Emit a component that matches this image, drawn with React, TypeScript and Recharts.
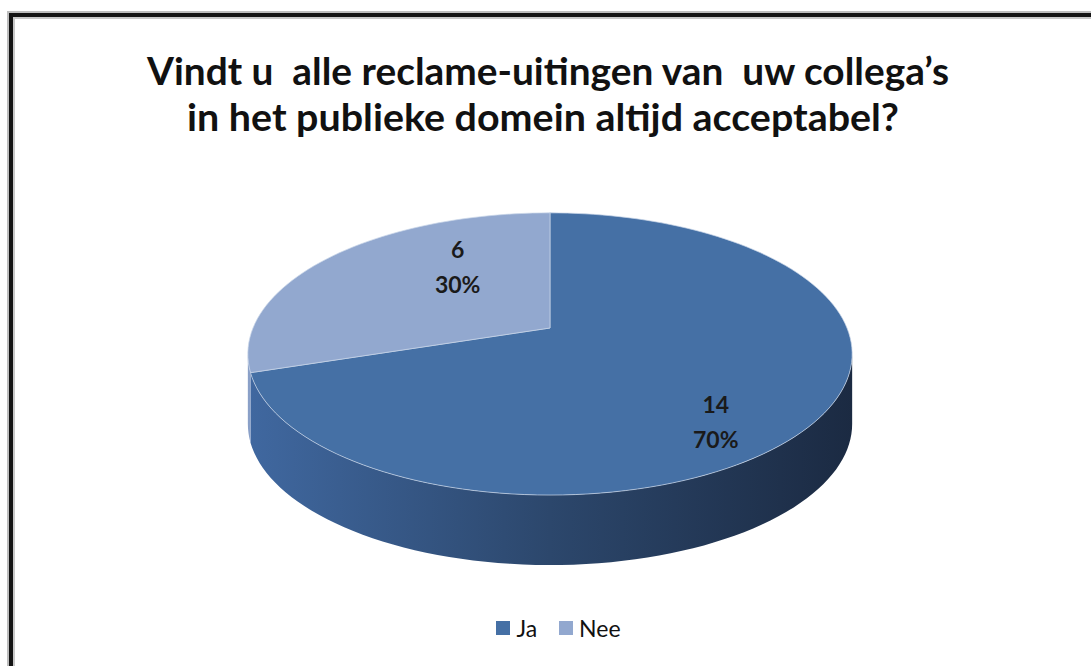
import { PieChart, Pie, Cell, Legend } from "recharts";

const CATEGORIES = ["Ja", "Nee"];
const COUNTS = [14, 6];
const TOP_COLORS = ["#4570a5", "#92a8cf"];
const SIDE_COLORS: Record<string, string[]> = {
  "#4570a5": ["#4068a0", "#2c476c", "#1b2a42"],
  "#92a8cf": ["#8aa0c8", "#7389b3", "#5d739c"],
};
const TITLE_LINES = [
  "Vindt u  alle reclame-uitingen van  uw collega’s",
  "in het publieke domein altijd acceptabel?",
];

const data = CATEGORIES.map((name, i) => ({ name, value: COUNTS[i] }));

// fake 3d: tilted disc seen in perspective
const E = 0.184;
const KY = 0.459;
const DEPTH = 70;

function rim(cx: number, cy: number, r: number, deg: number): [number, number] {
  const a = (deg * Math.PI) / 180;
  const s = Math.sin(a);
  const c = Math.cos(a);
  const d = 1 + E * s;
  return [cx + (r * c) / d, cy - (r * KY * s) / d];
}

function arc(cx: number, cy: number, r: number, from: number, to: number, dy = 0) {
  const n = Math.max(2, Math.ceil(Math.abs(to - from) / 2));
  const pts: string[] = [];
  for (let i = 0; i <= n; i++) {
    const [x, y] = rim(cx, cy, r, from + ((to - from) * i) / n);
    pts.push(`${x.toFixed(2)},${(y + dy).toFixed(2)}`);
  }
  return pts;
}

function PieSlice3D(props: any) {
  const { cx, cy, outerRadius, startAngle, endAngle, fill } = props;
  const r = outerRadius;
  const lim = (Math.asin(E) * 180) / Math.PI;
  const lo = Math.max(Math.min(startAngle, endAngle), -180 + lim);
  const hi = Math.min(Math.max(startAngle, endAngle), -lim);
  const side = SIDE_COLORS[fill] || [fill, fill, fill];
  const gid = `side-${fill.replace("#", "")}`;
  const top = arc(cx, cy, r, startAngle, endAngle);
  let sidePath = "";
  if (hi > lo) {
    const upper = arc(cx, cy, r, hi, lo);
    const lower = arc(cx, cy, r, lo, hi, DEPTH);
    sidePath = `M${upper.join(" L")} L${lower.join(" L")} Z`;
  }
  return (
    <g>
      <defs>
        <linearGradient
          id={gid}
          gradientUnits="userSpaceOnUse"
          x1={cx - r * 1.02}
          x2={cx + r * 1.02}
          y1={0}
          y2={0}
        >
          <stop offset="0" stopColor={side[0]} />
          <stop offset="0.5" stopColor={side[1]} />
          <stop offset="1" stopColor={side[2]} />
        </linearGradient>
      </defs>
      {sidePath && <path d={sidePath} fill={`url(#${gid})`} stroke="none" />}
      <path
        d={`M${cx},${cy} L${top.join(" L")} Z`}
        fill={fill}
        stroke="#c9d5e8"
        strokeWidth={1}
        strokeOpacity={0.7}
      />
    </g>
  );
}

function renderLabel(props: any) {
  const { cx, cy, midAngle, percent, value } = props;
  const a = (midAngle * Math.PI) / 180;
  const rx = 46 + 227 * percent;
  const ry = 62 + 140 * percent;
  const x = cx + rx * Math.cos(a);
  const y = cy - ry * Math.sin(a);
  return (
    <text
      x={x}
      y={y}
      textAnchor="middle"
      fill="#1a1a1a"
      fontFamily="Lato, sans-serif"
      fontWeight="bold"
      fontSize={23}
    >
      <tspan x={x} y={y - 9}>
        {value}
      </tspan>
      <tspan x={x} y={y + 26}>
        {`${Math.round(percent * 100)}%`}
      </tspan>
    </text>
  );
}

function renderLegend(props: any) {
  const { payload } = props;
  return (
    <div
      style={{
        display: "flex",
        justifyContent: "center",
        paddingLeft: 26,
        gap: 22,
        fontFamily: "Lato, sans-serif",
        fontSize: 23,
        color: "#111",
      }}
    >
      {(payload || []).map((p: any) => (
        <div key={p.value} style={{ display: "flex", alignItems: "center", gap: 6 }}>
          <span style={{ width: 14, height: 14, background: p.color, display: "inline-block" }} />
          <span>{p.value}</span>
        </div>
      ))}
    </div>
  );
}

export default function App() {
  return (
    <div
      style={{
        position: "absolute",
        left: 0,
        top: 0,
        width: 1091,
        height: 666,
        overflow: "hidden",
        background: "#fff",
      }}
    >
      <div
        style={{
          position: "absolute",
          left: 9,
          top: 13,
          width: 1200,
          height: 800,
          borderTop: "4px solid #141414",
          borderLeft: "4px solid #141414",
          boxShadow: "-2px -2px 0 #bdbdbd, inset 2px 2px 0 #c8c8c8",
        }}
      />
      <svg
        width={1091}
        height={150}
        style={{ position: "absolute", left: 0, top: 0 }}
      >
        <text
          x={548}
          y={85}
          textAnchor="middle"
          fontFamily="Lato, sans-serif"
          fontWeight="bold"
          fontSize={38}
          fill="#111"
          textLength={802}
          lengthAdjust="spacingAndGlyphs"
          style={{ whiteSpace: "pre" }}
        >
          {TITLE_LINES[0]}
        </text>
        <text
          x={543}
          y={131}
          textAnchor="middle"
          fontFamily="Lato, sans-serif"
          fontWeight="bold"
          fontSize={38}
          fill="#111"
          textLength={712}
          lengthAdjust="spacingAndGlyphs"
        >
          {TITLE_LINES[1]}
        </text>
      </svg>
      <div style={{ position: "absolute", left: 0, top: 0 }}>
        <PieChart width={1091} height={666}>
          <Pie
            data={data}
            dataKey="value"
            nameKey="name"
            cx={545}
            cy={323}
            outerRadius={297}
            startAngle={90}
            endAngle={-270}
            stroke="none"
            isAnimationActive={false}
            labelLine={false}
            label={renderLabel}
            shape={PieSlice3D}
            inactiveShape={PieSlice3D}
            activeShape={PieSlice3D}
          >
            {data.map((d, i) => (
              <Cell key={d.name} fill={TOP_COLORS[i]} />
            ))}
          </Pie>
          <Legend
            content={renderLegend}
            wrapperStyle={{ position: "absolute", top: 614, left: 0, width: 1091 }}
          />
        </PieChart>
      </div>
    </div>
  );
}
